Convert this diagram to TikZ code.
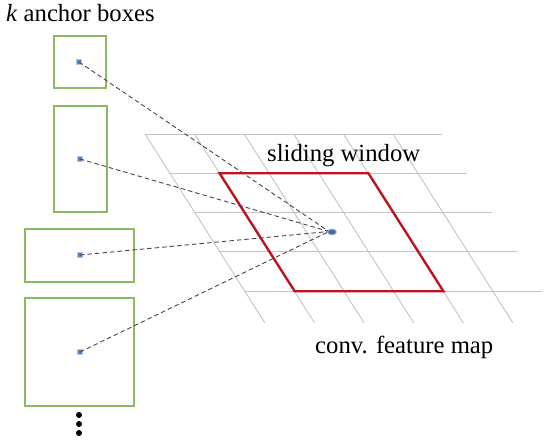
\documentclass[tikz,border=0pt]{standalone}
\usepackage{fontspec}
\usetikzlibrary{shapes.geometric}
\setmainfont{Liberation Serif}
\begin{document}
\begin{tikzpicture}[x=1pt,y=-1pt,
  anchorbox/.style={draw=boxgreen,line width=1.5pt,minimum width=#1,inner sep=0pt,outer sep=0pt},
  bluedot/.style={fill=dotblue,minimum size=5pt,inner sep=0pt,draw=dotblue!45,line width=0.8pt},
  link/.style={draw=linkgray,line width=0.9pt,dash pattern=on 4.5pt off 3pt},
  gridline/.style={draw=gridgray,line width=0.9pt},
  window/.style={draw=winred,line width=2.4pt,line join=miter},
  label/.style={font=\fontsize{24.7}{28}\selectfont,inner sep=0pt,anchor=base west},
  ellipsisdot/.style={circle,fill=black,minimum size=6pt,inner sep=0pt}]
\definecolor{boxgreen}{RGB}{140,185,100}
\definecolor{dotblue}{RGB}{85,135,195}
\definecolor{linkgray}{RGB}{70,70,70}
\definecolor{gridgray}{RGB}{195,195,195}
\definecolor{winred}{RGB}{190,20,30}
\useasboundingbox (0,0) rectangle (550,444);
% grid
\foreach \i in {0,...,4} {
  \draw[gridline] (145+25*\i,134+39.3*\i) -- (442+25*\i,134+39.3*\i);
}
\foreach \j in {0,...,5} {
  \draw[gridline] (145+49.6*\j,134) -- (265+49.6*\j,323);
}
% sliding window
\draw[window] (219.6,173.3) -- (368.4,173.3) -- (443.4,291.2) -- (294.6,291.2) -- cycle;
% anchor boxes
\node[anchorbox=52pt,minimum height=52pt] (b1) at (80,62) {};
\node[anchorbox=53pt,minimum height=106pt] (b2) at (80.5,159) {};
\node[anchorbox=109pt,minimum height=53pt] (b3) at (79.5,255.5) {};
\node[anchorbox=109pt,minimum height=108pt] (b4) at (79.5,352) {};
% centres
\node[bluedot] (d1) at (79,62) {};
\node[bluedot] (d2) at (80,159) {};
\node[bluedot] (d3) at (80,255) {};
\node[bluedot] (d4) at (80,352) {};
\coordinate (c) at (329,231.5);
\draw[link] (d1.center) -- (c);
\draw[link] (d2.center) -- (c);
\draw[link] (d3.center) -- (c);
\draw[link] (d4.center) -- (c);
\node[ellipse,fill=dotblue!80!black,draw=dotblue!50,line width=0.8pt,minimum width=9pt,minimum height=6pt,inner sep=0pt] (ctr) at (332,232) {};
% ellipsis
\node[ellipsisdot] (e1) at (79,415) {};
\node[ellipsisdot] (e2) at (79,424) {};
\node[ellipsisdot] (e3) at (79,433) {};
% labels
\node[label] (t1) at (6,22) {\textit{k} anchor boxes};
\node[label] (t2) at (267,162) {sliding window};
\node[label] (t3) at (315,353) {conv. feature map};
\end{tikzpicture}
\end{document}
